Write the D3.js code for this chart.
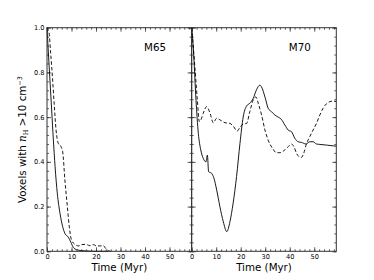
<!DOCTYPE html>
<html><head><meta charset="utf-8">
<script src="https://cdn.jsdelivr.net/npm/d3@7"></script>
<style>
body{margin:0;background:#fff;}
svg{display:block;font-family:"DejaVu Sans",sans-serif;}
</style></head>
<body><svg id="c" width="374" height="280"></svg>
<script>
// ---- data ----
const panelNames = ["M65", "M70"];
const xTickValues = [0, 10, 20, 30, 40, 50];
const yTickValues = [0.0, 0.2, 0.4, 0.6, 0.8, 1.0];

const m65SolidT = [0, 0.5, 1.2, 1.9, 2.6, 3.3, 4.2, 5.3, 6.4, 7.3, 8.7, 9.8, 10.7, 12.1, 14.1, 16.2, 18.9, 22, 25];
const m65SolidV = [1.0, 0.90, 0.766, 0.632, 0.498, 0.378, 0.26, 0.17, 0.11, 0.08, 0.063, 0.039, 0.018, 0.007, 0.003, 0.001, 0.0, 0.0, 0.0];

const m65DashT = [0, 0.8, 1.5, 2.3, 3.0, 3.7, 4.6, 5.6, 6.4, 7.3, 8.3, 9.1, 10.0, 11.4, 13.0, 14.1, 15.9, 17.5, 18.9, 20.2, 21.6, 23.0, 24.0, 25.0, 26.0];
const m65DashV = [1.0, 0.98, 0.885, 0.766, 0.647, 0.542, 0.483, 0.47, 0.445, 0.319, 0.2, 0.11, 0.05, 0.031, 0.024, 0.03, 0.031, 0.025, 0.03, 0.024, 0.024, 0.025, 0.012, 0.003, 0.0];

const m70SolidT = [0, 0.7, 1.75, 2.7, 3.7, 4.7, 5.8, 6.4, 6.9, 8.1, 9.1, 10.2, 11.5, 12.9, 14.3, 15.6, 16.9, 18.3, 19.7, 21.0, 22.4, 23.7, 25.1, 26.5, 27.8, 28.5, 29.9, 31.2, 32.6, 33.9, 35.3, 36.6, 38.0, 39.4, 40.7, 42.1, 43.4, 44.8, 46.6, 48.2, 49.5, 50.9, 52.3, 55.0, 59.0];
const m70SolidV = [1.0, 0.90, 0.677, 0.528, 0.453, 0.416, 0.40, 0.43, 0.356, 0.349, 0.326, 0.274, 0.20, 0.132, 0.088, 0.132, 0.215, 0.334, 0.483, 0.60, 0.65, 0.662, 0.684, 0.724, 0.743, 0.735, 0.69, 0.64, 0.624, 0.61, 0.60, 0.59, 0.565, 0.542, 0.535, 0.505, 0.49, 0.487, 0.48, 0.49, 0.49, 0.48, 0.478, 0.475, 0.47];

const m70DashT = [0, 1.3, 2.3, 3.1, 3.7, 4.7, 6.1, 7.5, 8.8, 10.2, 11.5, 13.6, 15.6, 16.9, 18.6, 19.7, 21.0, 22.4, 23.7, 25.1, 26.2, 27.2, 28.5, 29.9, 31.2, 33.0, 34.6, 36.0, 37.6, 39.4, 40.7, 41.7, 42.8, 43.8, 44.8, 45.7, 46.8, 48.2, 49.5, 50.9, 52.3, 53.6, 55.0, 56.3, 57.7, 59.0];
const m70DashV = [1.0, 0.825, 0.677, 0.58, 0.587, 0.617, 0.647, 0.617, 0.575, 0.595, 0.588, 0.575, 0.572, 0.56, 0.538, 0.555, 0.569, 0.572, 0.624, 0.677, 0.69, 0.66, 0.61, 0.542, 0.497, 0.46, 0.441, 0.441, 0.45, 0.468, 0.48, 0.468, 0.438, 0.423, 0.42, 0.438, 0.48, 0.513, 0.542, 0.572, 0.61, 0.64, 0.66, 0.669, 0.672, 0.669];

const panels = [
  {name: panelNames[0], solid: [m65SolidT, m65SolidV], dash: [m65DashT, m65DashV]},
  {name: panelNames[1], solid: [m70SolidT, m70SolidV], dash: [m70DashT, m70DashV]}
];

// ---- layout ----
const svg = d3.select("#c");
const plotTop = 27.7, plotBottom = 251.3;
const panelX = [47, 191.7], panelW = 144.6;
const y = d3.scaleLinear().domain([0, 1]).range([plotBottom, plotTop]);
const xMinor = d3.range(0, 59, 2);
const yMinor = d3.range(0, 1.0001, 0.04).map(v => +v.toFixed(2));
const frameColor = "#333";

panels.forEach((p, i) => {
  const x0 = panelX[i];
  const x = d3.scaleLinear().domain([0, 59]).range([x0, x0 + panelW]);
  const g = svg.append("g");

  const mkAxis = (axisFn, scale, vals, size, fmt) =>
    axisFn(scale).tickValues(vals).tickSize(size).tickSizeOuter(0).tickFormat(fmt);

  // bottom
  g.append("g").attr("transform", `translate(0,${plotBottom})`)
    .call(mkAxis(d3.axisBottom, x, xMinor, -2, ""));
  const gbM = g.append("g").attr("transform", `translate(0,${plotBottom})`)
    .call(mkAxis(d3.axisBottom, x, xTickValues, -4, d3.format("d")));
  gbM.selectAll("text").attr("y", 3).attr("dy", "0.71em")
    .style("font-size", "6.6px").style("font-family", "DejaVu Sans").attr("fill", "#000");
  // top
  g.append("g").attr("transform", `translate(0,${plotTop})`).call(mkAxis(d3.axisTop, x, xMinor, -2, ""));
  g.append("g").attr("transform", `translate(0,${plotTop})`).call(mkAxis(d3.axisTop, x, xTickValues, -4, ""));
  // left
  g.append("g").attr("transform", `translate(${x0},0)`).call(mkAxis(d3.axisLeft, y, yMinor, -2, ""));
  const gl = g.append("g").attr("transform", `translate(${x0},0)`)
    .call(mkAxis(d3.axisLeft, y, yTickValues, -4, i === 0 ? d3.format(".1f") : ""));
  gl.selectAll("text").attr("x", -2.5)
    .style("font-size", "6.6px").style("font-family", "DejaVu Sans").attr("fill", "#000");
  // right
  g.append("g").attr("transform", `translate(${x0 + panelW},0)`).call(mkAxis(d3.axisRight, y, yMinor, -2, ""));
  g.append("g").attr("transform", `translate(${x0 + panelW},0)`).call(mkAxis(d3.axisRight, y, yTickValues, -4, ""));

  g.selectAll(".domain").remove();
  g.selectAll(".tick line").attr("stroke", frameColor).attr("stroke-width", 0.8);

  // curves
  const line = d3.line().x(d => x(d[0])).y(d => y(d[1])).curve(d3.curveMonotoneX);
  const zip = ([t, v]) => t.map((tt, k) => [tt, v[k]]);
  g.append("path").attr("d", line(zip(p.dash))).attr("fill", "none")
    .attr("stroke", "#000").attr("stroke-width", 0.9).attr("stroke-dasharray", "3.5,2.2");
  g.append("path").attr("d", line(zip(p.solid))).attr("fill", "none")
    .attr("stroke", "#000").attr("stroke-width", 0.9);

  // frame
  g.append("rect").attr("x", x0).attr("y", plotTop).attr("width", panelW).attr("height", plotBottom - plotTop)
    .attr("fill", "none").attr("stroke", frameColor).attr("stroke-width", 1);

  // panel label
  g.append("text").attr("x", x0 + panelW - 36.5).attr("y", 50.5)
    .attr("text-anchor", "middle").style("font-size", "10.3px").text(p.name);

  // x axis label
  g.append("text").attr("x", x0 + panelW / 2).attr("y", 270.5)
    .attr("text-anchor", "middle").style("font-size", "10.3px").text("Time (Myr)");
});

// y axis label
const yl = svg.append("text")
  .attr("transform", `translate(26,${(plotTop + plotBottom) / 2}) rotate(-90)`)
  .attr("text-anchor", "middle").style("font-size", "10.3px");
yl.append("tspan").text("Voxels with ");
yl.append("tspan").style("font-family", "DejaVu Serif").style("font-style", "italic").text("n");
yl.append("tspan").attr("dy", 2).style("font-size", "6.5px").style("font-family", "DejaVu Serif").text("H");
yl.append("tspan").attr("dy", -2).text(" >10 cm");
yl.append("tspan").attr("dy", -4).style("font-size", "6.5px").text("−3");
</script></body></html>
